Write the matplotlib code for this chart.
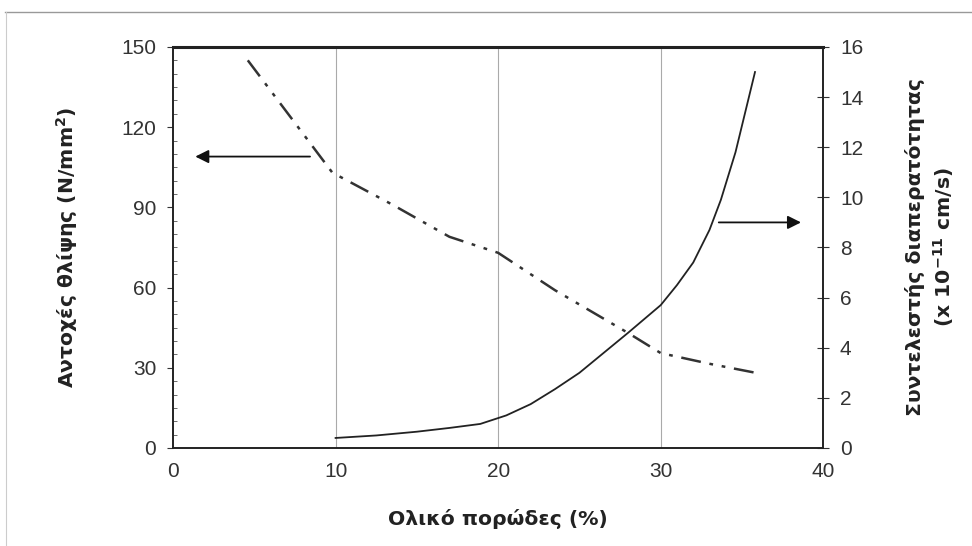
import matplotlib
matplotlib.use('Agg')
from matplotlib import pyplot as plt
from matplotlib.ticker import MultipleLocator

plt.rcParams['font.family'] = ['Liberation Sans', 'DejaVu Sans']
plt.rcParams['mathtext.fontset'] = 'dejavusans'

# Αντοχές θλίψης (αριστερός άξονας)
porosity_str = [4.6, 9.8, 13.5, 17.0, 20.0, 23.5, 28.0, 30.0, 33.0, 36.2]
strength = [145, 103, 91, 79, 73, 59, 43, 35.5, 31.5, 27.7]

# Συντελεστής διαπερατότητας (δεξιός άξονας)
porosity_perm = [10, 12.5, 15, 17, 18.9, 20.5, 22, 23.5, 25, 26.5, 28, 30, 31, 32, 33, 33.7, 34.6, 35.8]
permeability = [0.4, 0.5, 0.65, 0.8, 0.96, 1.3, 1.75, 2.35, 3.0, 3.8, 4.6, 5.7, 6.5, 7.4, 8.7, 9.9, 11.8, 15.0]

fig = plt.figure(figsize=(9.72, 5.46), dpi=100)
ax = fig.add_axes([0.178, 0.1795, 0.669, 0.7345])
ax2 = ax.twinx()

ax.plot(porosity_str, strength, color='#333333', lw=1.8,
        linestyle=(0, (8, 3.5, 1.5, 3.5, 1.5, 3.5)))
ax2.plot(porosity_perm, permeability, color='#222222', lw=1.3)

ax.set_xlim(0, 40)
ax.set_ylim(0, 150)
ax2.set_ylim(0, 16)
ax.set_xticks([0, 10, 20, 30, 40])
ax.set_yticks([0, 30, 60, 90, 120, 150])
ax.yaxis.set_minor_locator(MultipleLocator(5))
ax2.set_yticks(range(0, 17, 2))

for x in [10, 20, 30]:
    ax.axvline(x, color='#aaaaaa', lw=0.8, zorder=0)

ax.tick_params(axis='x', length=0, pad=10, labelsize=15, colors='#333333')
ax.tick_params(axis='y', length=4, pad=8, labelsize=15, colors='#333333')
ax.tick_params(axis='y', which='minor', direction='in', length=3, color='#555555')
ax2.tick_params(axis='y', direction='inout', length=8, pad=8, labelsize=15, colors='#333333')

for a in (ax, ax2):
    for s in a.spines.values():
        s.set_color('#222222')
        s.set_linewidth(1.2)
ax2.spines['top'].set_linewidth(2.2)

lab = dict(family='DejaVu Sans', fontsize=14.7, fontweight='bold', color='#222222')
ax.set_xlabel('Ολικό πορώδες (%)', labelpad=20, **lab)
ax.set_ylabel('Αντοχές θλίψης (N/mm$^\\mathbf{2}$)', labelpad=30, **lab)
ax2.set_ylabel('Συντελεστής διαπερατότητας\n(x 10$^{\\mathbf{-11}}$ cm/s)', labelpad=30,
               linespacing=1.3, **lab)

# βέλη που δείχνουν τον άξονα κάθε καμπύλης
ax.annotate('', xy=(1.2, 109), xytext=(8.6, 109),
            arrowprops=dict(arrowstyle='-|>', color='#111111', lw=1.3, mutation_scale=20))
ax2.annotate('', xy=(38.8, 9.0), xytext=(33.4, 9.0),
             arrowprops=dict(arrowstyle='-|>', color='#111111', lw=1.3, mutation_scale=20))

# περίγραμμα σάρωσης
fig.add_artist(plt.Line2D([0.005, 1.0], [0.978, 0.978], color='#999999', lw=1.0))
fig.add_artist(plt.Line2D([0.006, 0.006], [0.0, 0.978], color='#cccccc', lw=0.8))

plt.savefig('out.png', dpi=100)
